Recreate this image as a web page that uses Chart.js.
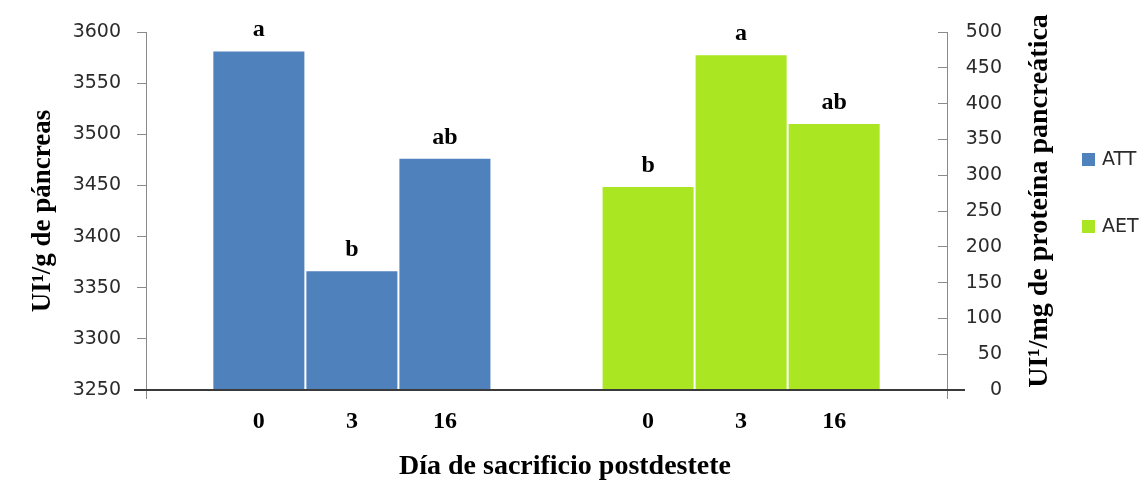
<!DOCTYPE html>
<html>
<head>
<meta charset="utf-8">
<script src="https://cdn.jsdelivr.net/npm/chart.js@4/dist/chart.umd.min.js"></script>
<style>
  body { margin: 0; background: #fff; }
  #wrap { width: 1146px; height: 485px; position: relative; }
</style>
</head>
<body>
<div id="wrap"><canvas id="chart"></canvas></div>
<script>
// Data
const groups = ['ATT', 'AET'];
const days = ['0', '3', '16'];
const attValues = [3582, 3367, 3477];
const aetValues = [285, 469, 373];
const attLetters = ['a', 'b', 'ab'];
const aetLetters = ['b', 'a', 'ab'];
const leftTicks = [3250, 3600, 50];
const rightTicks = [0, 500, 50];
const seriesColors = ['#4F81BD', '#AAE622'];
const xTitle = 'Día de sacrificio postdestete';
const leftTitle = 'UI¹/g de páncreas';
const rightTitle = 'UI¹/mg de proteína pancreática';

const serif = '"Liberation Serif", "DejaVu Serif", serif';
const sans = '"DejaVu Sans", Verdana, sans-serif';
const axisColor = '#8a8a8a';
const baseColor = '#3a3a3a';
const textColor = '#2b2b2b';

// one dataset per day and group, stacked by day so the bars sit side by side
const datasets = [];
days.forEach(function (d, i) {
  datasets.push({
    label: groups[0] + ' ' + d,
    data: [attValues[i], null],
    yAxisID: 'y',
    stack: 'd' + i,
    base: leftTicks[0],
    backgroundColor: seriesColors[0],
    letter: attLetters[i]
  });
});
days.forEach(function (d, i) {
  datasets.push({
    label: groups[1] + ' ' + d,
    data: [null, aetValues[i]],
    yAxisID: 'y1',
    stack: 'd' + i,
    base: rightTicks[0],
    backgroundColor: seriesColors[1],
    letter: aetLetters[i]
  });
});

// labels under and above the bars, titles, legend, axis ends
const extras = {
  id: 'extras',
  afterDatasetsDraw(chart) {
    const ctx = chart.ctx;
    const area = chart.chartArea;
    ctx.save();

    // axis ends that stick out past the plot
    ctx.strokeStyle = axisColor;
    ctx.lineWidth = 1;
    ctx.beginPath();
    ctx.moveTo(area.left + 0.5, area.bottom);
    ctx.lineTo(area.left + 0.5, area.bottom + 9);
    ctx.moveTo(area.right + 0.5, area.bottom);
    ctx.lineTo(area.right + 0.5, area.bottom + 9);
    ctx.stroke();
    ctx.strokeStyle = baseColor;
    ctx.lineWidth = 2;
    ctx.beginPath();
    ctx.moveTo(area.left - 12, area.bottom);
    ctx.lineTo(area.right + 18, area.bottom);
    ctx.stroke();

    ctx.fillStyle = '#000';
    ctx.textAlign = 'center';
    chart.data.datasets.forEach(function (ds, di) {
      const meta = chart.getDatasetMeta(di);
      const gi = ds.yAxisID === 'y' ? 0 : 1;
      const bar = meta.data[gi];
      if (!bar) return;
      ctx.font = 'bold 24px ' + serif;
      ctx.textBaseline = 'alphabetic';
      ctx.fillText(ds.letter, bar.x, bar.y - 14);
      ctx.textBaseline = 'middle';
      ctx.fillText(days[di % days.length], bar.x, area.bottom + 32);
    });

    // x title
    ctx.font = 'bold 28px ' + serif;
    ctx.fillText(xTitle, 565, area.bottom + 77);

    // right axis title, reading bottom to top
    ctx.translate(area.right + 93, (area.top + area.bottom) / 2 - 10);
    ctx.rotate(-Math.PI / 2);
    ctx.fillText(rightTitle, 0, 0);
    ctx.restore();

    // legend
    ctx.save();
    ctx.font = '19px ' + sans;
    ctx.textAlign = 'left';
    ctx.textBaseline = 'middle';
    groups.forEach(function (g, i) {
      const y = 160 + i * 67;
      ctx.fillStyle = seriesColors[i];
      ctx.fillRect(area.right + 135, y - 7, 13, 13);
      ctx.fillStyle = textColor;
      ctx.fillText(g, area.right + 155, y);
    });
    ctx.restore();
  }
};

new Chart(document.getElementById('chart').getContext('2d'), {
  type: 'bar',
  data: {
    labels: groups,
    datasets: datasets
  },
  options: {
    responsive: true,
    maintainAspectRatio: false,
    animation: false,
    layout: {
      padding: { top: 32, right: 144, left: 0, bottom: 0 }
    },
    datasets: {
      bar: {
        categoryPercentage: 0.717,
        barPercentage: 1,
        borderColor: '#ffffff',
        borderWidth: 1,
        skipNull: true
      }
    },
    plugins: {
      legend: { display: false },
      tooltip: { enabled: false }
    },
    scales: {
      x: {
        grid: { display: false },
        border: { color: baseColor, width: 2 },
        ticks: { display: false },
        // pull the two groups a little towards the middle
        afterBuildTicks: function (s) { s._startValue -= 0.029; s._valueRange += 0.058; },
        afterFit: function (s) { s.height = 95; }
      },
      y: {
        position: 'left',
        stacked: false,
        min: leftTicks[0],
        max: leftTicks[1],
        ticks: {
          stepSize: leftTicks[2],
          color: textColor,
          font: { family: sans, size: 19 },
          padding: 16,
          callback: function (v) { return String(v); }
        },
        grid: { drawOnChartArea: false, tickLength: 9, color: axisColor },
        border: { color: axisColor },
        title: {
          display: true,
          text: leftTitle,
          color: '#000',
          font: { family: serif, size: 27, weight: 'bold' },
          padding: { top: 27, bottom: 0 }
        },
        afterFit: function (s) { s.width = 146; }
      },
      y1: {
        position: 'right',
        stacked: false,
        min: rightTicks[0],
        max: rightTicks[1],
        ticks: {
          stepSize: rightTicks[2],
          color: textColor,
          font: { family: sans, size: 19 },
          crossAlign: 'far',
          callback: function (v) { return String(v); }
        },
        grid: { drawOnChartArea: false, tickLength: -9, color: axisColor },
        border: { color: axisColor },
        afterFit: function (s) { s.width = 55; }
      }
    }
  },
  plugins: [extras]
});
</script>
</body>
</html>
